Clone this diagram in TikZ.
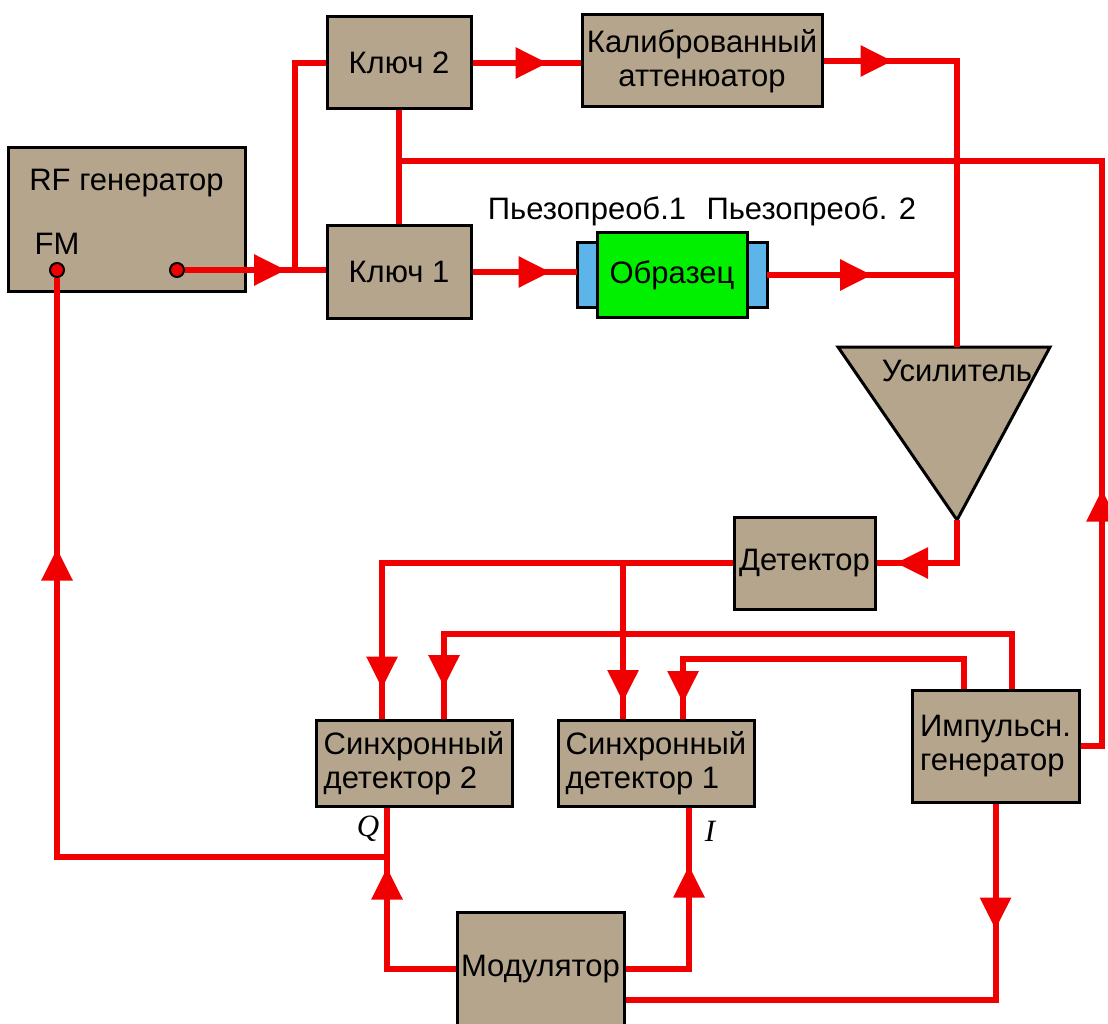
\documentclass[tikz,border=0pt]{standalone}
\usepackage{fontspec}
\setmainfont{Liberation Sans}
\newfontfamily\labelserif{Liberation Serif}
\usetikzlibrary{arrows.meta,positioning,calc,decorations.markings}
\definecolor{BoxTan}{RGB}{181,165,141}
\definecolor{WireRed}{RGB}{240,0,0}
\definecolor{SampleGreen}{RGB}{0,240,0}
\definecolor{PadBlue}{RGB}{92,180,232}

\begin{document}
\begin{tikzpicture}[x=1pt, y=-1pt, >={Triangle[length=32pt,width=30pt]},
  every node/.style={font=\fontsize{31}{34}\selectfont},
  box/.style={draw, line width=3pt, fill=BoxTan, inner sep=3pt},
  pad/.style={draw, line width=3pt, fill=PadBlue, outer sep=0pt,
              minimum width=20pt, minimum height=64pt, inner sep=0pt},
  txt/.style={inner sep=0pt},
  wire/.style={color=WireRed, line width=6pt},
  arr at/.style={postaction={decorate, decoration={markings,
      mark=at position #1 with {\arrow{>}}}}},
  dot/.style={circle, draw, line width=2pt, fill=WireRed,
              inner sep=0pt, minimum size=14pt}]
\useasboundingbox (0,0) rectangle (1108,1024);

% generator
\node[box, minimum width=237pt, minimum height=144pt] (rf) at (126.5,220) {};
\node[txt, below=22pt of rf.north] (rftxt) {RF генератор};
\node[dot] (fm) at (57,270) {};
\node[dot] (rfout) at (177,270) {};
\node[txt, above=7pt of fm] (fmtxt) {FM};

% keys and attenuator
\node[box, minimum width=144pt, minimum height=92pt] (key2) at (399,63) {Ключ 2};
\node[box, minimum width=144pt, minimum height=92pt, below=114pt of key2] (key1) {Ключ 1};
\node[box, minimum width=240pt, minimum height=92pt, align=center] (att) at (702,61)
     {Калиброванный\\аттенюатор};

% sample with transducers
\node[draw, line width=3pt, fill=SampleGreen, outer sep=0pt,
      minimum width=150pt, minimum height=85pt] (smp) at (672,275) {Образец};
\node[pad, left=0pt of smp] (padl) {};
\node[pad, right=0pt of smp] (padr) {};
\node[txt, above=17pt of padl] (pz1) {Пьезопреоб.1};
\node[txt, right=20pt of pz1] (pz2) {Пьезопреоб. 2};

% amplifier
\coordinate (amptop) at (957,347);
\coordinate (ampout) at (957,520);
\filldraw[fill=BoxTan, line width=3pt] (838,347) -- (1050,347) -- (ampout) -- cycle;
\node[txt, below=13pt of amptop] (amptxt) {Усилитель};

% detectors, pulse generator, modulator
\node[box, minimum width=141pt, minimum height=92pt, inner sep=1pt] (det) at (804.5,563) {Детектор};
\node[box, minimum width=196pt, minimum height=86pt, align=left] (sd2) at (414,763)
     {Синхронный\\детектор 2};
\node[box, minimum width=196pt, minimum height=86pt, align=left, right=43pt of sd2] (sd1)
     {Синхронный\\детектор 1};
\node[box, minimum width=167pt, minimum height=112pt, align=left] (pg) at (995.5,746)
     {Импульсн.\\генератор};
\node[box, minimum width=167pt, minimum height=114pt, inner sep=1pt] (mod) at (540.5,969) {Модулятор};
\node[txt] (qtxt) at (368,829) {\labelserif\itshape Q};
\node[txt] (itxt) at (710,831) {\labelserif\itshape I};

% connections
\coordinate (split) at (295,270);
\coordinate (tap) at ([yshift=-51pt]key2.south);
\coordinate (feed) at (1102,161.5);
\coordinate (sd2a) at ([xshift=-32pt]sd2.north);
\coordinate (sd1a) at ([xshift=-33pt]sd1.north);
\coordinate (qjoin) at ([xshift=-27pt,yshift=-49pt]sd2.south);

\draw[wire, arr at=101pt] (rfout) -- (rfout -| key1.west);
\draw[wire] (split) |- (key2.west);
\draw[wire, arr at=75pt] (key2) -- (key2 -| att.west);
\draw[wire, arr at=69pt] (att.east) -| (amptop);
\draw[wire] (key2) -- (key1);
\draw[wire, arr at=278pt] (pg.east) -| (feed) -- (tap);
\draw[wire, arr at=78pt] (key1) -- (key1 -| padl.west);
\draw[wire, arr at=105pt] (padr) -- (padr -| amptop);
\draw[wire, arr at=104pt] (ampout) |- (det.east);
\draw[wire, arr at=476pt] (det.west) -| (sd2a);
\draw[wire, arr at=139pt] (det.west -| sd1a) -- (sd1a);
\draw[wire, arr at=676pt] ([xshift=16pt]pg.north) -- ++(0,-55) -| ([xshift=30pt]sd2.north);
\draw[wire, arr at=355pt] ([xshift=-32pt]pg.north) -- ++(0,-30) -| ([xshift=27pt]sd1.north);
\draw[wire] ([xshift=-27pt]sd2.south) -- (qjoin);
\draw[wire, arr at=638pt] (qjoin) -| (fm);
\draw[wire, arr at=170pt] (mod.west) -| (qjoin);
\draw[wire, arr at=167pt] (mod.east) -| ([xshift=33pt]sd1.south);
\draw[wire, arr at=126pt] (pg.south) |- ([yshift=-31pt]mod.east);
\end{tikzpicture}
\end{document}
